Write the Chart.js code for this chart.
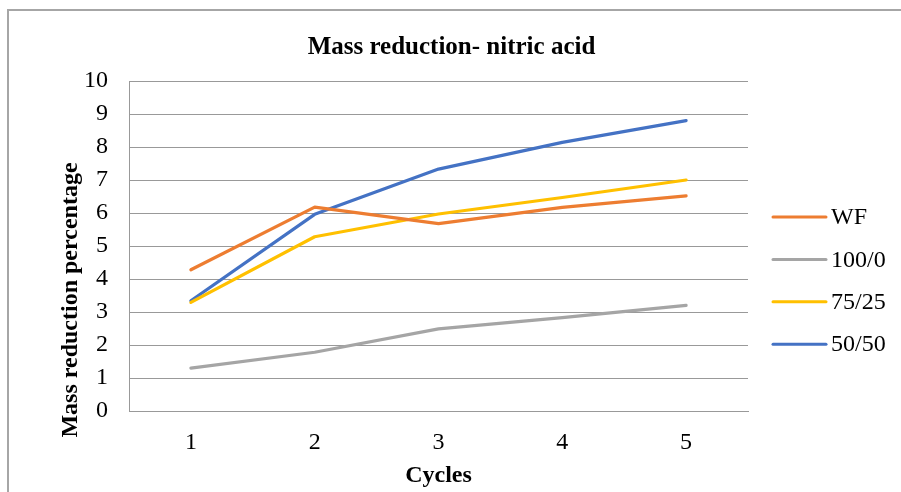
<!DOCTYPE html>
<html>
<head>
<meta charset="utf-8">
<script src="https://cdn.jsdelivr.net/npm/chart.js@4"></script>
<style>
  html, body { margin: 0; padding: 0; background: #fff; }
  #wrap { position: relative; width: 901px; height: 492px; overflow: hidden; }
  #frame { position: absolute; left: 7px; top: 9px; width: 1000px; height: 1000px;
           border-left: 2px solid #a6a6a6; border-top: 2px solid #a6a6a6; box-sizing: border-box; }
  canvas { position: absolute; left: 0; top: 0; }
</style>
</head>
<body>
<div id="wrap">
  <div id="frame"></div>
  <canvas id="c" width="901" height="492"></canvas>
</div>
<script>
const cycles = ['1', '2', '3', '4', '5'];
const seriesWF = [4.28, 6.18, 5.68, 6.17, 6.52];
const series100_0 = [1.30, 1.78, 2.49, 2.83, 3.20];
const series75_25 = [3.29, 5.28, 5.97, 6.47, 7.00];
const series50_50 = [3.34, 5.96, 7.33, 8.14, 8.80];
const seriesNames = ['WF', '100/0', '75/25', '50/50'];
const seriesColors = ['#ED7D31', '#A5A5A5', '#FFC000', '#4472C4'];
const yTitle = 'Mass reduction percentage';
const xTitle = 'Cycles';
const chartTitle = 'Mass reduction- nitric acid';

const FONT = "'Liberation Serif', 'Times New Roman', serif";
Chart.defaults.font.family = FONT;
Chart.defaults.color = '#000';

const allSeries = [seriesWF, series100_0, series75_25, series50_50];

const customDecor = {
  id: 'customDecor',
  afterDraw(chart) {
    const ctx = chart.ctx;
    const area = chart.chartArea;
    // chart title, centred on the whole canvas
    ctx.save();
    ctx.font = "bold 25px " + FONT;
    ctx.fillStyle = '#000';
    ctx.textAlign = 'center';
    ctx.textBaseline = 'middle';
    ctx.fillText(chartTitle, chart.width / 2 + 1, area.top - 33);
    ctx.restore();
    // y axis title
    ctx.save();
    ctx.translate(area.left - 58, area.top + 219);
    ctx.rotate(-Math.PI / 2);
    ctx.font = "bold 24px " + FONT;
    ctx.fillStyle = '#000';
    ctx.textAlign = 'center';
    ctx.textBaseline = 'middle';
    ctx.fillText(yTitle, 0, 0);
    ctx.restore();
    // legend
    ctx.save();
    chart.data.datasets.forEach((ds, i) => {
      const y = area.top + 136 + i * 42.4;
      const x0 = area.right + 25;
      ctx.strokeStyle = ds.borderColor;
      ctx.lineWidth = 3;
      ctx.lineCap = 'round';
      ctx.beginPath();
      ctx.moveTo(x0, y);
      ctx.lineTo(x0 + 53, y);
      ctx.stroke();
      ctx.font = "24px " + FONT;
      ctx.fillStyle = '#000';
      ctx.textAlign = 'left';
      ctx.textBaseline = 'middle';
      ctx.fillText(ds.label, x0 + 58, y + 1);
    });
    ctx.restore();
  }
};

new Chart(document.getElementById('c'), {
  type: 'line',
  data: {
    labels: cycles,
    datasets: allSeries.map((d, i) => ({
      label: seriesNames[i],
      data: d,
      borderColor: seriesColors[i],
      backgroundColor: seriesColors[i],
      borderWidth: 3.2,
      pointRadius: 0,
      tension: 0,
      borderCapStyle: 'round',
      borderJoinStyle: 'round',
      fill: false
    }))
  },
  options: {
    responsive: false,
    animation: false,
    layout: { padding: { left: 0, right: 153, top: 81, bottom: 0 } },
    plugins: {
      legend: { display: false },
      tooltip: { enabled: false },
      title: { display: false }
    },
    scales: {
      x: {
        offset: true,
        grid: { display: false, drawTicks: false },
        border: { display: true, color: '#999999', width: 1 },
        ticks: { font: { family: FONT, size: 24 }, color: '#000', padding: 17 },
        title: {
          display: true, text: xTitle,
          font: { family: FONT, size: 24, weight: 'bold' }, color: '#000',
          padding: { top: 0, bottom: 2 }
        },
        afterFit(scale) { scale.height = 81; }
      },
      y: {
        min: 0, max: 10,
        ticks: { stepSize: 1, font: { family: FONT, size: 24 }, color: '#000', padding: 21 },
        grid: { color: '#999999', lineWidth: 1, drawTicks: false },
        border: { display: true, color: '#999999', width: 1 },
        afterFit(scale) { scale.width = 129; }
      }
    }
  },
  plugins: [customDecor]
});
</script>
</body>
</html>
